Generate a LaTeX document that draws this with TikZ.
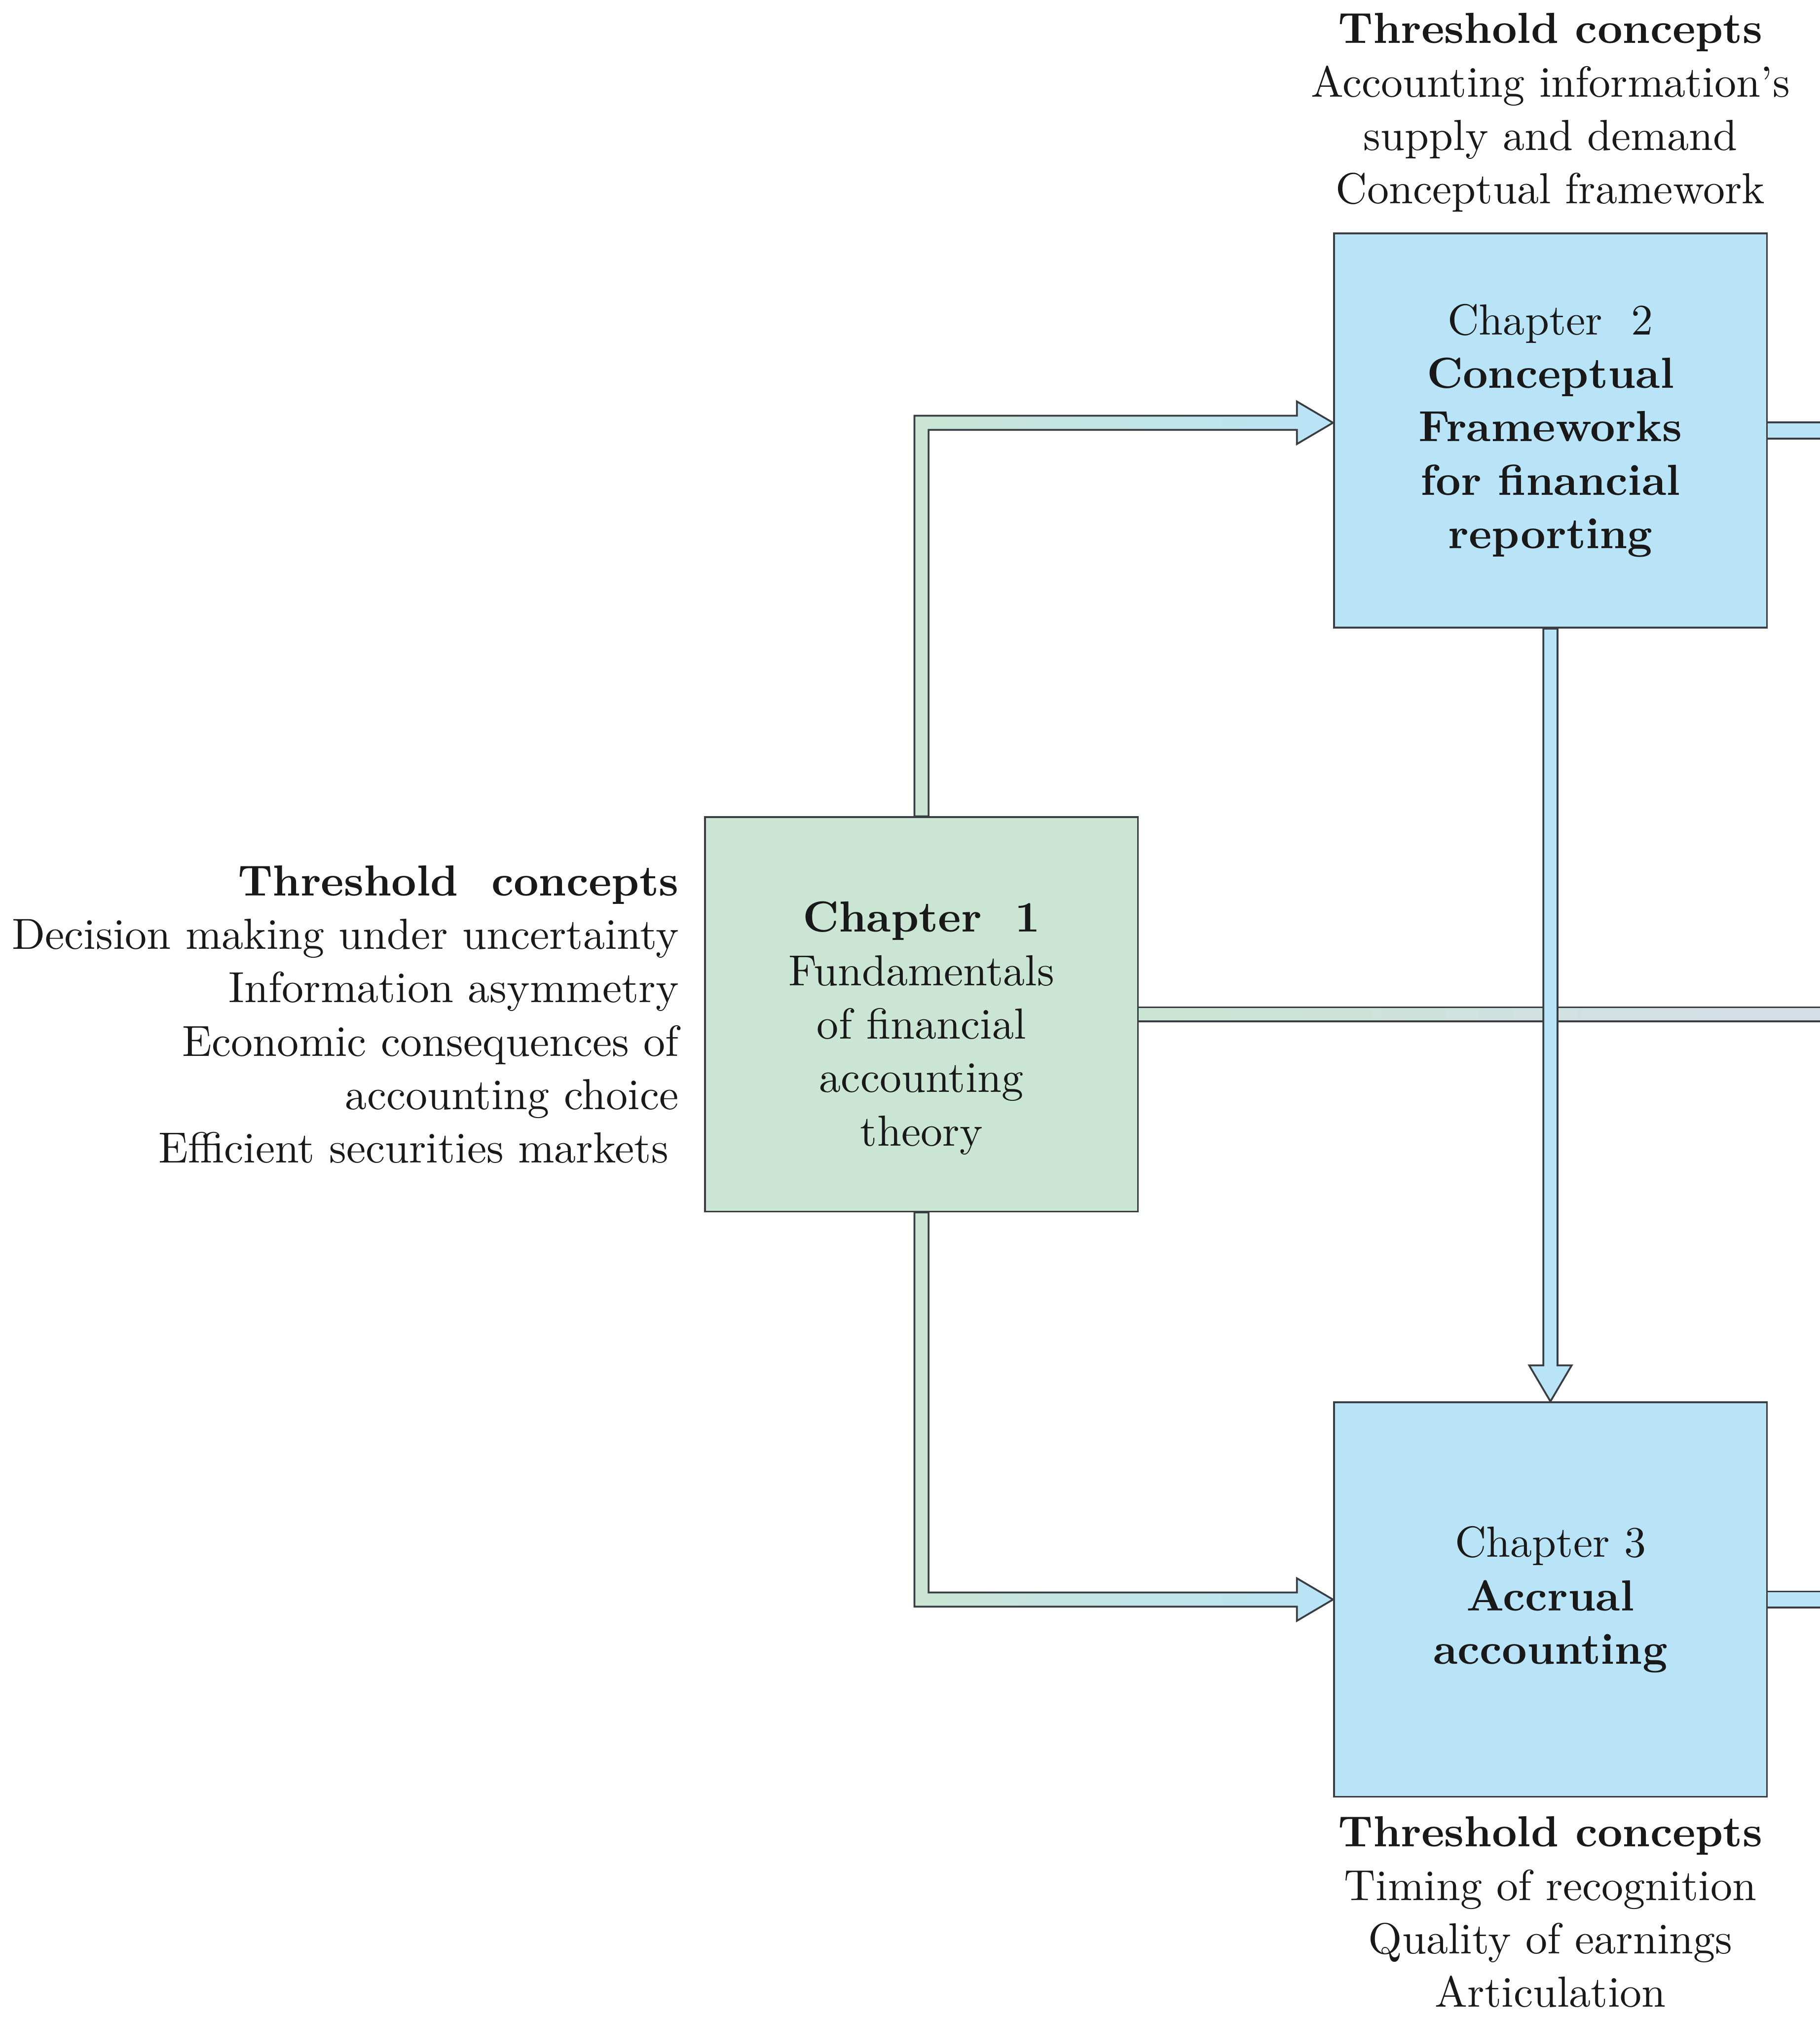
\documentclass[tikz,border=0pt]{standalone}
\usetikzlibrary{positioning,calc}
\definecolor{mintfill}{RGB}{202,229,212}
\definecolor{skyfill}{RGB}{185,227,247}
\definecolor{mistfill}{RGB}{212,222,231}
\definecolor{edgegray}{RGB}{58,62,66}

\begin{document}
\begin{tikzpicture}[font=\fontsize{9.6}{11.8}\selectfont]
 \tikzstyle{chapbox}=[rectangle,draw=edgegray,line width=0.4pt,minimum width=3.36cm,minimum height=3.06cm,align=center,inner sep=0pt,text=black!90]
 \tikzstyle{concepts}=[inner sep=0pt,text=black!90]
 \tikzstyle{fatarrow}=[draw=edgegray,line width=0.4pt]
 \tikzstyle{fatline}=[draw=edgegray,line width=0.4pt,double=skyfill,double distance=0.11cm]
 \useasboundingbox (0,0) rectangle (14.12,-15.68);
 \coordinate (edge) at (14.12,0);
 % chapters
 \node[chapbox, fill=mintfill] (ch1) at (7.15,-7.87) {\rule{0pt}{0.45cm}\textbf{Chapter~ 1}\\Fundamentals\\of financial\\accounting\\theory};
 \node[chapbox, fill=skyfill] (ch2) at (12.03,-3.34) {Chapter~ 2\\\textbf{Conceptual}\\\textbf{Frameworks}\\\textbf{for financial}\\\textbf{reporting}};
 \node[chapbox, fill=skyfill] (ch3) at (12.03,-12.41) {Chapter 3\\\textbf{Accrual}\\\textbf{accounting}};
 \coordinate (in2) at ($(ch2.west)+(0,0.06)$);
 % threshold concepts
 \node[concepts, align=center, above=0.15cm of ch2] (tc2) {\textbf{Threshold concepts}\\Accounting information's\\supply and demand\\Conceptual framework};
 \node[concepts, align=right, left=0.19cm of ch1] (tc1) {\textbf{Threshold~ concepts}\\Decision making under uncertainty\\Information asymmetry\\Economic consequences of\\accounting choice\\Efficient securities markets\hspace*{0.08cm}};
 \node[concepts, align=center, below=0.14cm of ch3] (tc3) {\textbf{Threshold concepts}\\Timing of recognition\\Quality of earnings\\Articulation};
 % links
 \shadedraw[fatarrow, left color=mintfill, right color=skyfill] ($(ch1.north)+(-0.055,0)$) |- ($(in2)+(-0.28,0.055)$) -- ++(0,0.11) -- (in2) -- ($(in2)+(-0.28,-0.165)$) -- ++(0,0.11) -| ($(ch1.north)+(0.055,0)$) -- cycle;
 \shadedraw[fatarrow, left color=mintfill, right color=skyfill] ($(ch1.south)+(-0.055,0)$) |- ($(ch3.west)+(-0.28,-0.055)$) -- ++(0,-0.11) -- (ch3.west) -- ($(ch3.west)+(-0.28,0.165)$) -- ++(0,-0.11) -| ($(ch1.south)+(0.055,0)$) -- cycle;
 \shade[left color=mintfill, right color=mistfill] ($(ch1.east)+(0,0.055)$) rectangle ($(ch1.east -| edge)+(0,-0.055)$);
 \draw[edgegray, line width=0.4pt] ($(ch1.east)+(0,0.055)$) -- ($(ch1.east -| edge)+(0,0.055)$) ($(ch1.east)+(0,-0.055)$) -- ($(ch1.east -| edge)+(0,-0.055)$);
 \filldraw[fatarrow, fill=skyfill] ($(ch2.south)+(-0.055,0)$) -- ($(ch3.north)+(-0.055,0.28)$) -- ++(-0.11,0) -- (ch3.north) -- ($(ch3.north)+(0.165,0.28)$) -- ++(-0.11,0) -- ($(ch2.south)+(0.055,0)$) -- cycle;
 \draw[fatline] (ch2.east) -- (ch2.east -| edge);
 \draw[fatline] (ch3.east) -- (ch3.east -| edge);
\end{tikzpicture}
\end{document}
